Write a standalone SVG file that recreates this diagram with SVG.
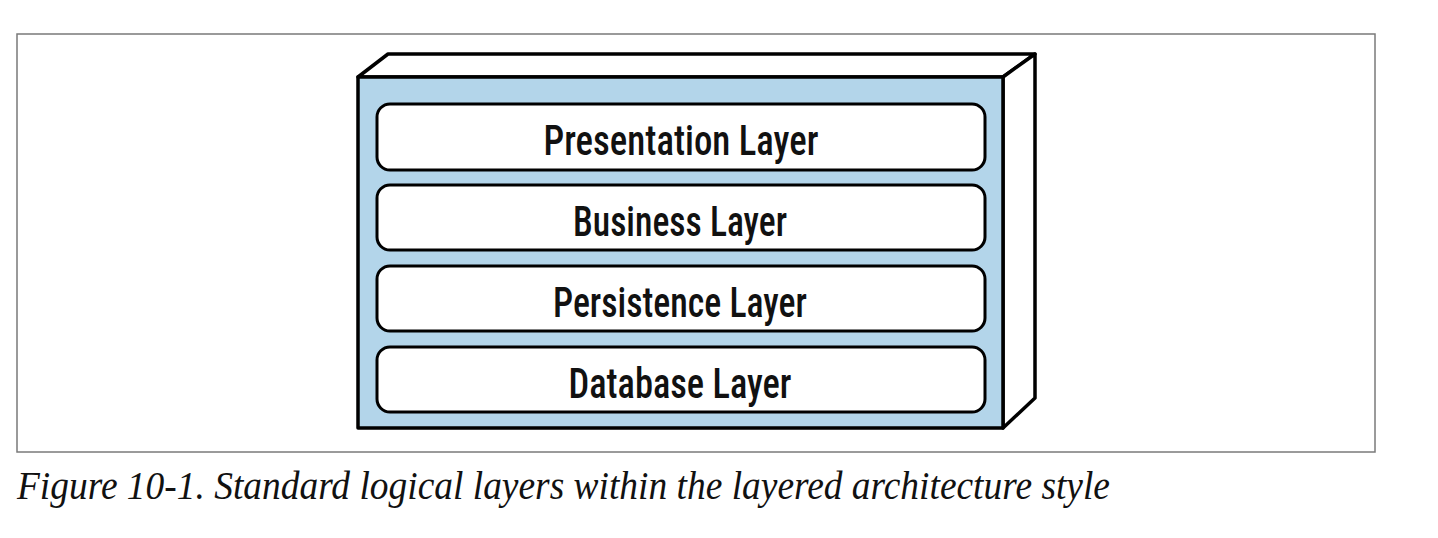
<svg xmlns="http://www.w3.org/2000/svg" width="1438" height="538" viewBox="0 0 1438 538">
<style>
.frame{fill:#fff;stroke:#7a7a7a;stroke-width:1.5}
.face{stroke:#000;stroke-width:3.5;stroke-linejoin:round}
.layer rect{fill:#fff;stroke:#000;stroke-width:3}
.layer text{font-family:"Liberation Sans Narrow","Roboto Condensed","Roboto","Liberation Sans",sans-serif;font-size:42px;font-weight:500;fill:#111;text-anchor:middle}
.cap{font-family:"Liberation Serif",serif;font-style:italic;font-size:40px;fill:#111}
</style>
<rect width="1438" height="538" fill="#fff"/>
<rect class="frame" x="17" y="34" width="1358" height="418"/>
<g id="container">
<polygon class="face" points="358,77 388,54 1035,54 1003,77" fill="#fff"/>
<polygon class="face" points="1003,77 1035,54 1035,398 1003,428" fill="#fff"/>
<rect class="face" x="358" y="77" width="645" height="351" fill="#b3d5ea"/>
</g>
<g id="presentation" class="layer">
<rect x="377" y="104" width="608" height="66" rx="13"/>
<text x="681" y="155" textLength="275" lengthAdjust="spacingAndGlyphs">Presentation Layer</text>
</g>
<g id="business" class="layer">
<rect x="377" y="185" width="608" height="65" rx="13"/>
<text x="680" y="236" textLength="214" lengthAdjust="spacingAndGlyphs">Business Layer</text>
</g>
<g id="persistence" class="layer">
<rect x="377" y="266" width="608" height="65" rx="13"/>
<text x="680" y="317" textLength="254" lengthAdjust="spacingAndGlyphs">Persistence Layer</text>
</g>
<g id="database" class="layer">
<rect x="377" y="347" width="608" height="65" rx="13"/>
<text x="680" y="398" textLength="223" lengthAdjust="spacingAndGlyphs">Database Layer</text>
</g>
<g id="connectors"/>
<text class="cap" x="17" y="499" textLength="1093" lengthAdjust="spacingAndGlyphs">Figure 10-1. Standard logical layers within the layered architecture style</text>
</svg>
